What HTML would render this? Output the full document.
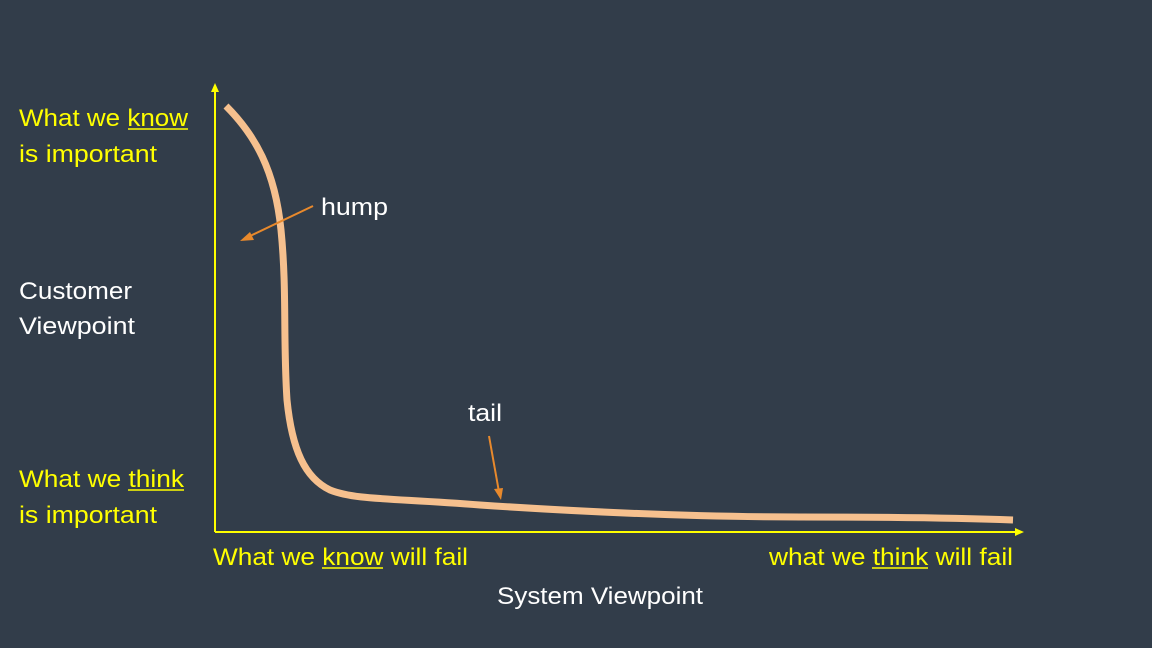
<!DOCTYPE html>
<html><head><style>
html,body{margin:0;padding:0;background:#323d4a;}
svg{display:block}
text{font-family:"Liberation Sans",sans-serif;font-size:24px;}
</style></head><body>
<svg width="1152" height="648" viewBox="0 0 1152 648" xmlns="http://www.w3.org/2000/svg">
<rect width="1152" height="648" fill="#323d4a"/>
<line x1="215" y1="90" x2="215" y2="532" stroke="#ffff00" stroke-width="2"/>
<polygon points="215,83 211,92 219,92" fill="#ffff00"/>
<line x1="215" y1="532" x2="1016" y2="532" stroke="#ffff00" stroke-width="2"/>
<polygon points="1024,532 1015,528 1015,536" fill="#ffff00"/>
<path d="M226,106 C255,135 275,170 281,230 C287,290 283,340 287,400 C292,450 305,478 330,490 C355,500 390,498 480,505 C600,513 700,517 800,517 C900,517 960,518 1013,520" fill="none" stroke="#f6c08e" stroke-width="7"/>
<line x1="313" y1="206" x2="248" y2="237" stroke="#e8892c" stroke-width="2"/>
<polygon points="240,241 250,232 254,240" fill="#e8892c"/>
<text x="321" y="215" fill="#ffffff" textLength="67" lengthAdjust="spacingAndGlyphs">hump</text>
<line x1="489" y1="436" x2="499" y2="492" stroke="#e8892c" stroke-width="2"/>
<polygon points="501,500 494,489 503,488" fill="#e8892c"/>
<text x="468" y="421" fill="#ffffff" textLength="34" lengthAdjust="spacingAndGlyphs">tail</text>
<text x="19" y="126" fill="#ffff00" textLength="169" lengthAdjust="spacingAndGlyphs">What we know</text>
<line x1="128" y1="129" x2="188" y2="129" stroke="#ffff00" stroke-width="1.5"/>
<text x="19" y="162" fill="#ffff00" textLength="138" lengthAdjust="spacingAndGlyphs">is important</text>
<text x="19" y="299" fill="#ffffff" textLength="113" lengthAdjust="spacingAndGlyphs">Customer</text>
<text x="19" y="334" fill="#ffffff" textLength="116" lengthAdjust="spacingAndGlyphs">Viewpoint</text>
<text x="19" y="487" fill="#ffff00" textLength="165" lengthAdjust="spacingAndGlyphs">What we think</text>
<line x1="128" y1="490" x2="184" y2="490" stroke="#ffff00" stroke-width="1.5"/>
<text x="19" y="523" fill="#ffff00" textLength="138" lengthAdjust="spacingAndGlyphs">is important</text>
<text x="213" y="565" fill="#ffff00" textLength="255" lengthAdjust="spacingAndGlyphs">What we know will fail</text>
<line x1="322" y1="568" x2="383" y2="568" stroke="#ffff00" stroke-width="1.5"/>
<text x="769" y="565" fill="#ffff00" textLength="244" lengthAdjust="spacingAndGlyphs">what we think will fail</text>
<line x1="872" y1="568" x2="928" y2="568" stroke="#ffff00" stroke-width="1.5"/>
<text x="497" y="604" fill="#ffffff" textLength="206" lengthAdjust="spacingAndGlyphs">System Viewpoint</text>
</svg>
</body></html>
